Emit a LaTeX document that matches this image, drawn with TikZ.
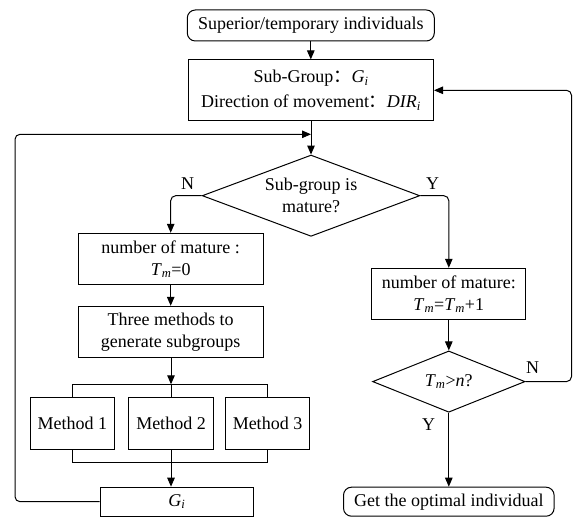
\documentclass[tikz,border=0pt]{standalone}
\usepackage{fontspec}
\setmainfont{Liberation Serif}
\newfontfamily\cjkfont{Noto Sans CJK SC}
\usetikzlibrary{shapes.geometric,arrows.meta}
% full-width colon and italic variable with italic subscript
\newcommand{\fcolon}{{\cjkfont ：}}
\newcommand{\ivar}[2]{\textit{#1}\textsubscript{\textit{#2}}}
\begin{document}
\begin{tikzpicture}[x=1pt,y=-1pt,line width=1pt,
  every node/.style={font=\fontsize{18}{22}\selectfont},
  box/.style={draw,rectangle,inner sep=0pt,align=center},
  term/.style={box,rounded corners=8pt},
  decision/.style={draw,diamond,inner sep=0pt,align=center},
  flow/.style={-{Triangle[length=9pt,width=7.5pt]}},
  link/.style={rounded corners=5pt},
  tag/.style={inner sep=0pt}]
\useasboundingbox (0,0) rectangle (573,518);

% main column
\node[term,minimum width=247pt,minimum height=31pt] (start) at (310.8,25.5) {Superior/temporary individuals};
\node[box,minimum width=245pt,minimum height=60.7pt,font=\fontsize{18}{25}\selectfont] (sub) at (311,90.3)
  {Sub-Group\fcolon\ivar{G}{i}\\Direction of movement\fcolon\ivar{DIR}{i}};
\node[decision,aspect=2.68,minimum width=217.6pt,minimum height=81.3pt] (mature) at (311,195.7) {Sub-group is\\mature?};

% left branch
\node[box,minimum width=185pt,minimum height=51.4pt] (reset) at (170.7,259) {number of mature :\\\ivar{T}{m}=0};
\node[box,minimum width=185pt,minimum height=51.4pt] (methods) at (170.7,332) {Three methods to\\generate subgroups};
\node[box,minimum width=84.4pt,minimum height=51.6pt] (m1) at (72.3,423.5) {Method 1};
\node[box,minimum width=84.4pt,minimum height=51.6pt] (m2) at (171,423.5) {Method 2};
\node[box,minimum width=84.7pt,minimum height=51.6pt] (m3) at (267.5,423.5) {Method 3};
\node[box,minimum width=153.7pt,minimum height=29pt] (gi) at (176.9,501.7) {\ivar{G}{i}};

% right branch
\node[box,minimum width=154pt,minimum height=51.4pt] (count) at (448.8,294) {number of mature:\\\ivar{T}{m}=\ivar{T}{m}+1};
\node[decision,aspect=2.49,minimum width=152.4pt,minimum height=61.3pt] (limit) at (448.8,381.6) {\ivar{T}{m}>\textit{n}?};
\node[term,minimum width=210.6pt,minimum height=29pt] (best) at (448.8,501.7) {Get the optimal individual};

% branch labels
\node[tag] (n1) at (187.5,184) {N};
\node[tag] (y1) at (432.5,184) {Y};
\node[tag] (n2) at (532.6,367.5) {N};
\node[tag] (y2) at (428.5,425) {Y};

% helper points
\coordinate (split) at (171,384.3);
\coordinate (join) at (171,462.7);
\coordinate (loopin) at (311,134.3);
\coordinate (leftrail) at (15,134.3);
\coordinate (rightrail) at (571.5,90.3);

% connectors
\draw[flow] (start.south) -- (start.south |- sub.north);
\draw[flow] (sub.south) -- (mature.north);
\draw[flow,link] (mature.west) -| (reset.north);
\draw[flow] (reset.south) -- (methods.north);
\draw[flow] (methods.south -| split) -- (split);
\draw (m1.north) |- (split) -| (m3.north);
\draw (split) -- (m2.north);
\draw (m1.south) |- (join) -| (m3.south);
\draw (m2.south) -- (join);
\draw[flow] (join) -- (join |- gi.north);
\draw[flow,link] (gi.west) -| (leftrail) -- (loopin);

\draw[flow,link] (mature.east) -| (count.north);
\draw[flow] (count.south) -- (limit.north);
\draw[flow] (limit.south) -- (best.north);
\draw[flow,link] (limit.east) -| (rightrail) -- (sub.east);
\end{tikzpicture}
\end{document}
